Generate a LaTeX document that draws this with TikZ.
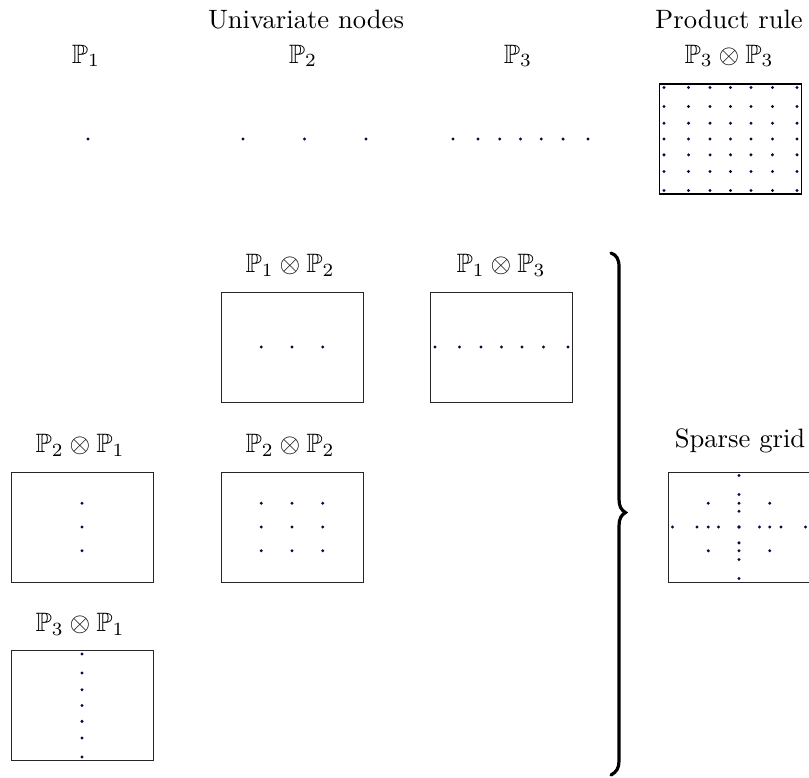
\documentclass[tikz,border=0pt]{standalone}
\usepackage{amssymb}
\begin{document}
\begin{tikzpicture}[x=0.376pt,y=-0.376pt,
  box/.style={draw=black!85,line width=0.35pt,minimum width=53.4pt,minimum height=41.4pt,inner sep=0pt,outer sep=0pt},
  lbl/.style={anchor=base,inner sep=0pt,font=\fontsize{10}{12}\selectfont},
  gp/.style={fill={rgb,255:red,10;green,10;blue,60}},
  bracestyle/.style={line width=1.2pt,line cap=round}
  ]
\useasboundingbox (0,0) rectangle (809,777);
\clip (0,0) rectangle (809,777);
\def\Pone{0}
\def\Ptwo{-1.2247,0,1.2247}
\def\Pthree{-2.6519,-1.6735,-0.8162,0,0.8162,1.6735,2.6519}
\def\dr{0.62pt}

% boxes
\node[box, draw=black, line width=0.6pt] (pr) at (730.5,139) {};
\node[box] (b12) at (292,347) {};
\node[box] (b13) at (501.5,347) {};
\node[box] (b21) at (82,527) {};
\node[box] (b22) at (292,527) {};
\node[box] (b31) at (82,705.5) {};
\node[box] (sg) at (739,527) {};

% labels
\node[lbl] (tuni) at (306,28) {Univariate nodes};
\node[lbl] (tp1) at (86,63) {$\mathbb{P}_1$};
\node[lbl] (tp2) at (303,63) {$\mathbb{P}_2$};
\node[lbl] (tp3) at (518,63) {$\mathbb{P}_3$};
\node[lbl] (tprod) at (729,28) {Product rule};
\node[lbl] (tp33) at (729,63) {$\mathbb{P}_3\otimes\mathbb{P}_3$};
\node[lbl] (t12) at (290,272) {$\mathbb{P}_1\otimes\mathbb{P}_2$};
\node[lbl] (t13) at (501,272) {$\mathbb{P}_1\otimes\mathbb{P}_3$};
\node[lbl] (t21) at (80,452) {$\mathbb{P}_2\otimes\mathbb{P}_1$};
\node[lbl] (t22) at (290,452) {$\mathbb{P}_2\otimes\mathbb{P}_2$};
\node[lbl] (tsg) at (740,447) {Sparse grid};
\node[lbl] (t31) at (80,631) {$\mathbb{P}_3\otimes\mathbb{P}_1$};

% top row univariate nodes
\fill[gp] (88,139) circle[radius=\dr];
\begin{scope}[shift={(304.5,139)},x=18.86pt,y=7.30pt]
  \foreach \a in \Ptwo {\fill[gp] (\a,0) circle[radius=\dr];}
\end{scope}
\begin{scope}[shift={(520.5,139)},x=9.57pt,y=7.30pt]
  \foreach \a in \Pthree {\fill[gp] (\a,0) circle[radius=\dr];}
\end{scope}

% product rule
\begin{scope}[shift={(pr.center)},x=9.43pt,y=7.30pt]
  \foreach \a in \Pthree {\foreach \b in \Pthree {\fill[gp] (\a,\b) circle[radius=\dr];}}
\end{scope}
% P1 x P2
\begin{scope}[shift={(b12.center)},x=9.43pt,y=7.30pt]
  \foreach \a in \Ptwo {\fill[gp] (\a,0) circle[radius=\dr];}
\end{scope}
% P1 x P3
\begin{scope}[shift={(b13.center)},x=9.43pt,y=7.30pt]
  \foreach \a in \Pthree {\fill[gp] (\a,0) circle[radius=\dr];}
\end{scope}
% P2 x P1
\begin{scope}[shift={(b21.center)},x=9.43pt,y=7.30pt]
  \foreach \a in \Ptwo {\fill[gp] (0,\a) circle[radius=\dr];}
\end{scope}
% P2 x P2
\begin{scope}[shift={(b22.center)},x=9.43pt,y=7.30pt]
  \foreach \a in \Ptwo {\foreach \b in \Ptwo {\fill[gp] (\a,\b) circle[radius=\dr];}}
\end{scope}
% P3 x P1
\begin{scope}[shift={(b31.center)},x=9.43pt,y=7.30pt]
  \foreach \a in \Pthree {\fill[gp] (0,\a) circle[radius=\dr];}
\end{scope}
% sparse grid
\begin{scope}[shift={(sg.center)},x=9.43pt,y=7.30pt]
  \foreach \a in \Pthree {\fill[gp] (\a,0) circle[radius=\dr]; \fill[gp] (0,\a) circle[radius=\dr];}
  \foreach \a in \Ptwo {\foreach \b in \Ptwo {\fill[gp] (\a,\b) circle[radius=\dr];}}
\end{scope}

% brace
\draw[bracestyle] (611,253) .. controls (616.5,255) and (619,259) .. (619,267)
  -- (619,499) .. controls (619,506) and (621,510) .. (625.5,512.5)
  .. controls (621,515) and (619,519) .. (619,526)
  -- (619,761) .. controls (619,768) and (616.5,772) .. (611,775);
\end{tikzpicture}
\end{document}
